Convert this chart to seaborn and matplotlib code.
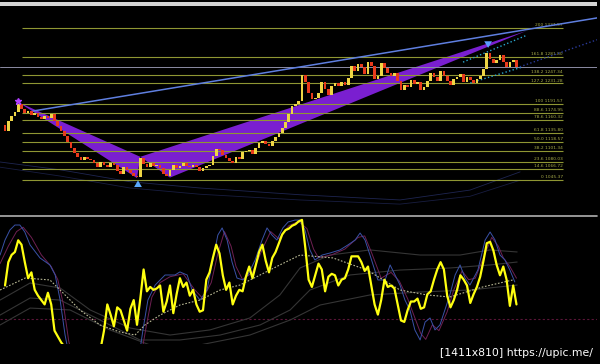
import numpy as np
import matplotlib
matplotlib.use("Agg")
import matplotlib.pyplot as plt
import seaborn as sns
from matplotlib.patches import Rectangle
from matplotlib.lines import Line2D

sns.set_theme(style="dark")
plt.rcParams['font.family'] = ['DejaVu Sans']

# ---------------- data ----------------
first_open = 1151
closes = [
    1140, 1159, 1168, 1176, 1192, 1182, 1174, 1178, 1170, 1174,
    1167, 1163, 1168, 1165, 1172, 1159, 1149, 1140, 1130, 1118,
    1107, 1097, 1090, 1084, 1090, 1086, 1084, 1078, 1070, 1080,
    1074, 1070, 1078, 1074, 1063, 1057, 1070, 1065, 1059, 1053,
    1051, 1088, 1076, 1070, 1078, 1072, 1074, 1068, 1057, 1053,
    1065, 1074, 1068, 1072, 1078, 1072, 1070, 1074, 1070, 1063,
    1068, 1072, 1074, 1092, 1105, 1103, 1093, 1088, 1082, 1078,
    1090, 1086, 1099, 1101, 1103, 1095, 1107, 1117, 1120, 1115,
    1111, 1120, 1128, 1136, 1145, 1157, 1172, 1188, 1192, 1197,
    1247, 1234, 1213, 1201, 1203, 1213, 1234, 1220, 1209, 1226,
    1232, 1226, 1234, 1228, 1242, 1265, 1255, 1268, 1263, 1249,
    1272, 1265, 1240, 1245, 1270, 1261, 1251, 1245, 1251, 1236,
    1218, 1228, 1224, 1238, 1230, 1234, 1218, 1224, 1236, 1251,
    1243, 1236, 1255, 1245, 1236, 1228, 1240, 1243, 1249, 1234,
    1243, 1238, 1232, 1240, 1245, 1259, 1290, 1278, 1270, 1276,
    1286, 1272, 1263, 1272, 1276, 1263]

fib_prices = [1337.57, 1281.80, 1247.34, 1231.28, 1191.57, 1174.95, 1160.32,
              1135.80, 1118.57, 1101.34, 1080.03, 1066.72, 1045.37]
fib_labels = ["200 1337.57", "161.8 1281.80", "138.2 1247.34", "127.2 1231.28",
              "100 1191.57", "88.6 1174.95", "78.6 1160.32", "61.8 1135.80",
              "50.0 1118.57", "38.2 1101.34", "23.6 1080.03", "14.6 1066.72",
              "0 1045.37"]

pattern_x = [4, 40, 41, 50, 158]
pattern_y = [1195, 1049, 1090, 1050, 1332]

trend_x = [8.5, 179.4]
trend_y = [1178, 1357]
chan1_x = [138.8, 158.2]
chan1_y = [1272, 1324]
chan2_x = [141, 157]
chan2_y = [1232, 1263]
chan3_x = [156, 179.4]
chan3_y = [1263, 1315]

env1_x = [-1.5, 16.7, 37.9, 59.1, 89.4, 119.7, 140.9, 156.1]
env1_y = [1080, 1065, 1042, 1030, 1017, 1007, 1026, 1061]
env2_x = [-1.5, 16.7, 37.9, 59.1, 89.4, 119.7, 140.9, 156.1]
env2_y = [1070, 1053, 1030, 1018, 1007, 999, 1014, 1045]

osc = [53, 69, 74, 76, 84, 81, 69, 58, 62, 50,
       46, 43, 40, 48, 40, 22, 18, 14, 11, 9,
       8, 7, 8, 9, 10, 9, 8, 8, 9, 10,
       22, 40, 33, 25, 38, 36, 29, 22, 37, 43,
       26, 44, 64, 49, 52, 50, 51, 53, 35, 42,
       53, 34, 47, 58, 52, 55, 46, 50, 40, 35,
       36, 57, 62, 72, 81, 75, 60, 50, 55, 40,
       46, 50, 49, 59, 66, 58, 67, 76, 81, 70,
       62, 72, 76, 82, 88, 91, 92, 94, 95, 97,
       98, 79, 57, 52, 60, 68, 64, 49, 59, 61,
       60, 53, 57, 58, 64, 73, 73, 73, 69, 63,
       66, 53, 40, 33, 43, 57, 52, 53, 51, 40,
       29, 28, 36, 42, 42, 44, 37, 38, 47, 49,
       57, 64, 69, 64, 46, 38, 43, 50, 60, 57,
       53, 41, 47, 52, 59, 70, 82, 83, 77, 67,
       60, 66, 57, 39, 53, 40]

blue_x = [-1.5, 0, 1.5, 3, 4.5, 6, 7.6, 10.6, 13.6, 15.2, 16.7, 18.2, 19.1, 30,
          40.9, 41.8, 43.3, 45.5, 48.5, 51.5, 53, 55.2, 56.7, 59.1, 61.2, 63,
          64.5, 65.8, 67.3, 68.8, 70.3, 72.1, 73.6, 75.8, 77.9, 79.4, 80.9, 82.4,
          84.2, 85.8, 87.9, 89.4, 90.9, 92.4, 93.9, 96.1, 98.5, 101.5, 103.9,
          106.1, 107.6, 109.1, 110.6, 113, 115.2, 116.7, 118.2, 119.7, 121.2,
          122.7, 124.2, 125.8, 127.3, 128.8, 130.3, 131.8, 133.3, 134.8, 136.4,
          137.9, 139.4, 140.9, 143.3, 145.5, 147, 148.5, 150, 151.5, 153, 154.5]
blue_v = [73.9, 84.2, 91.1, 94.5, 94.5, 89.7, 80.8, 71.9, 67.1, 60.2, 43.0, 19.0, 8.7, -15,
          8.7, 22.5, 43.0, 53.3, 60.2, 60.2, 62.3, 60.2, 49.9, 43.0, 49.9, 70.5,
          87.6, 92.5, 84.2, 69.1, 58.1, 56.8, 60.2, 70.5, 84.2, 92.5, 87.6, 84.2,
          92.5, 96.6, 97.9, 97.9, 91.1, 77.4, 70.5, 73.9, 75.3, 77.4, 80.8,
          84.2, 89.0, 84.2, 73.9, 56.8, 56.8, 67.1, 60.2, 53.3, 43.0,
          36.2, 22.5, 15.6, 27.9, 30.7, 22.5, 25.9, 36.2, 46.5, 60.2,
          67.1, 58.1, 53.3, 63.6, 84.2, 89.7, 84.2, 73.9, 70.5, 63.6, 55.4]

purple_x = [-1.5, 1, 3.5, 5.5, 8, 11, 14, 16, 17.7, 19.3, 20, 31,
            41.5, 42.8, 44.5, 47, 50, 54, 57.5, 60, 62.5, 64.5, 66.5, 68.5, 70,
            72, 75, 78, 80.5, 83, 86, 89, 91.5, 93.5, 95, 99, 103, 107, 109, 111,
            114, 117, 119.5, 122, 124, 126, 127.5, 129.5, 131.5, 134, 136, 138.5,
            140.5, 142.5, 145.5, 147.5, 149.5, 151, 153, 155]
purple_v = [68, 80, 90, 93, 86, 74, 66, 57, 40, 15, 8, -15,
            8, 25, 45, 55, 59, 61, 50, 44, 55, 75, 90, 80, 66,
            57, 62, 78, 90, 85, 94, 97, 92, 78, 72, 74, 78, 86, 87, 76,
            58, 62, 56, 44, 32, 20, 16, 26, 22, 35, 50, 63,
            57, 58, 75, 86, 80, 72, 66, 58]

signal_x = [-1.5, 6.1, 13.6, 16.7, 22.7, 28.8, 34.8, 39.4, 42.4, 47, 53, 59.1,
            65.2, 71.2, 77.3, 83.3, 89.4, 99.4, 109.7, 119.7, 127.9, 134.8, 144.8, 153.9]
signal_v = [49.9, 58.1, 56.8, 49.9, 36.2, 25.9, 21.1, 19.0, 25.9, 32.7, 39.6, 43.0,
            49.9, 53.3, 60.2, 67.1, 73.9, 71.9, 63.6, 49.9, 46.5, 45.1, 52.0, 56.8]

band_up_x = [-1.5, 7.6, 16.7, 25.8, 37.9, 50, 62.1, 74.2, 83.3, 89.4, 98.5, 110.6, 125.8, 137.9, 147, 155.2]
band_up_v = [43.0, 54.7, 51.3, 36.2, 23.8, 19.0, 22.5, 30.7, 46.5, 65.0, 73.9, 77.4, 73.9, 73.9, 77.4, 76.0]
band_mid_x = [-1.5, 7.6, 16.7, 28.8, 40.9, 53, 65.2, 77.3, 86.4, 92.4, 104.5, 119.7, 134.8, 147, 155.2]
band_mid_v = [32.7, 44.4, 43.0, 29.3, 15.6, 15.6, 19.0, 25.9, 36.2, 49.9, 60.2, 63.6, 65.0, 67.1, 69.1]
band_lo_x = [-1.5, 7.6, 19.7, 31.8, 43.9, 59.1, 74.2, 86.4, 95.5, 110.6, 125.8, 140.9, 155.2]
band_lo_v = [25.9, 37.5, 36.2, 22.5, 12.2, 12.2, 19.0, 29.3, 39.6, 46.5, 48.5, 49.9, 53.3]

osc_level = 30

# ---------------- figure ----------------
W, H = 600, 364
fig = plt.figure(figsize=(6, 3.64), dpi=100, facecolor="black")


def frac(x0, y0, x1, y1):
    return [x0 / W, 1 - y1 / H, (x1 - x0) / W, (y1 - y0) / H]


ax = fig.add_axes(frac(0, 8, 597, 214))
ax2 = fig.add_axes(frac(0, 217, 597, 344))
for a in (ax, ax2):
    a.set_facecolor("black")
    a.set_axis_off()
    a.set_xlim(-1.52, 179.4)
ax.set_ylim(980.0, 1376.1)
ax2.set_ylim(12.84, 100)

# pattern triangles
ax.fill(pattern_x[0:3], pattern_y[0:3], color="#7a1fd0", lw=0, zorder=1)
ax.fill(pattern_x[2:5], pattern_y[2:5], color="#7a1fd0", lw=0, zorder=1)

# faint envelopes
sns.lineplot(x=env1_x, y=env1_y, ax=ax, color="#1e2550", lw=0.6, zorder=1)
sns.lineplot(x=env2_x, y=env2_y, ax=ax, color="#181d40", lw=0.6, zorder=1)

# fibonacci levels
for p, lab in zip(fib_prices, fib_labels):
    ax.hlines(p, 5, 169, color="#8f9633", lw=0.8, zorder=2)
    ax.text(169, p + 1.5, lab, ha="right", va="bottom", fontsize=3.2,
            color="#a6ab48", zorder=2)

# bid line
ax.axhline(closes[-1], color="#8c8ca4", lw=0.7, zorder=2)

# trend and channel lines
sns.lineplot(x=trend_x, y=trend_y, ax=ax, color="#5f7fe0", lw=1.1, zorder=3)
sns.lineplot(x=chan1_x, y=chan1_y, ax=ax, color="#2aa8d0", lw=1.0, linestyle=":", zorder=3)
sns.lineplot(x=chan2_x, y=chan2_y, ax=ax, color="#2aa8d0", lw=1.0, linestyle=":", zorder=3)
sns.lineplot(x=chan3_x, y=chan3_y, ax=ax, color="#2a3a9a", lw=1.0, linestyle=":", zorder=3)

# candles
c = np.array(closes, dtype=float)
o = np.r_[first_open, c[:-1]]
idx = np.arange(len(c))
up = c >= o
bottoms = np.minimum(o, c)
heights = np.maximum(np.abs(c - o), 2.5)
ax.bar(idx[up], heights[up], bottom=bottoms[up], width=0.8, color="#eed545", lw=0, zorder=4)
ax.bar(idx[~up], heights[~up], bottom=bottoms[~up], width=0.8, color="#e83a1c", lw=0, zorder=4)

# markers
ax.plot(pattern_x[0], pattern_y[0] + 2, marker="*", color="#b040ff", ms=5, zorder=5)
ax.annotate("", xy=(40.3, 1050), xytext=(40.3, 1030),
            arrowprops=dict(arrowstyle="simple,head_width=0.7,head_length=0.6,tail_width=0.25",
                            color="#5aa8ff", lw=0, mutation_scale=8), zorder=5)
ax.annotate("", xy=(146.4, 1294), xytext=(146.4, 1316),
            arrowprops=dict(arrowstyle="simple,head_width=0.7,head_length=0.6,tail_width=0.25",
                            color="#5a9cff", lw=0, mutation_scale=8), zorder=5)

# oscillator panel
ax2.axhline(osc_level, color="#5a1538", lw=0.8, ls=(0, (2, 2)), zorder=1)
for bx, bv in ((band_up_x, band_up_v), (band_mid_x, band_mid_v), (band_lo_x, band_lo_v)):
    sns.lineplot(x=bx, y=bv, ax=ax2, color="#353535", lw=0.8, zorder=1)
sns.lineplot(x=purple_x, y=purple_v, ax=ax2, color="#6e2052", lw=0.7, zorder=2)
sns.lineplot(x=blue_x, y=blue_v, ax=ax2, color="#3a52a8", lw=0.7, zorder=2)
sns.lineplot(x=signal_x, y=signal_v, ax=ax2, color="#b8b894", lw=0.8,
             linestyle=(0, (1.5, 1.5)), zorder=3)
sns.lineplot(x=np.arange(len(osc)), y=osc, ax=ax2, color="#ffff10", lw=1.6, zorder=4)

# frame decorations
fig.add_artist(Rectangle((0, 1 - 6 / H), 597 / W, 4 / H, transform=fig.transFigure,
                         color="#d4d4d4", lw=0))
fig.add_artist(Line2D([0, 597 / W], [1 - 216 / H] * 2, transform=fig.transFigure,
                      color="#b0b0b0", lw=1.2))

fig.text(440 / W, 1 - 353 / H, "[1411x810] https://upic.me/", color="white",
         fontsize=7.8, ha="left", va="center")

fig.savefig("out.png", dpi=100, facecolor="black")
